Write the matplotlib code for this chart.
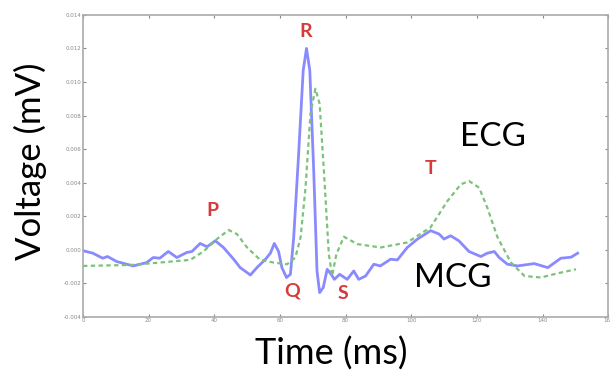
import matplotlib
matplotlib.use("Agg")
import matplotlib.pyplot as plt

# MCG trace (blue, solid)
mcg_t = [0.1, 3, 6, 7.5, 10.3, 15.3, 19.4, 21.4, 23.4, 26, 28.6, 31.6, 33.2, 35.7, 37.8,
         40.3, 42.8, 45.9, 47.9, 51, 53, 55.6, 57.1, 58.3, 59.6, 60.6, 62, 63.2, 64.2,
         65.7, 67.1, 68.1, 69.1, 70.3, 71.3, 72.1, 73.2, 74.4, 75.6, 76.6, 78.2, 80.5,
         82.5, 84, 86.1, 88.6, 90.6, 93.7, 95.8, 98.8, 101.9, 105.9, 108.5, 110, 112,
         114.5, 117.6, 121.2, 123.2, 125.3, 126.8, 129.3, 132.4, 137.5, 141.6, 145.6,
         148.7, 150.7]
mcg_v = [-0.00006, -0.0002, -0.0005, -0.0004, -0.0007, -0.00096, -0.00076, -0.00046,
         -0.0005, -0.0001, -0.00046, -0.00016, -0.0001, 0.00038, 0.00018, 0.00054,
         0.00014, -0.00056, -0.00106, -0.0015, -0.00106, -0.00056, -0.0002, 0.00038,
         -0.0001, -0.00106, -0.00165, -0.00146, 0.00074, 0.0057, 0.0107, 0.0120, 0.0107,
         0.0047, -0.00126, -0.00255, -0.00225, -0.00116, -0.00146, -0.00176, -0.00146,
         -0.00176, -0.00126, -0.00176, -0.00156, -0.00086, -0.00096, -0.00056, -0.0006,
         0.00014, 0.00064, 0.00114, 0.00094, 0.00064, 0.00084, 0.00054, -0.0001, -0.0004,
         -0.0002, -0.0001, -0.00046, -0.00086, -0.00096, -0.00082, -0.00106, -0.0005,
         -0.00044, -0.0002]

# ECG trace (green, dotted)
ecg_t = [0, 15, 32.7, 36.7, 40.8, 44.4, 46.9, 50, 54, 58.1, 62.2, 64.7, 66.3, 67.8, 69.3,
         70.8, 72.1, 73.4, 74.9, 75.9, 77.2, 79.5, 83.6, 90.7, 98.8, 105.9, 111, 115.1,
         117.6, 120.7, 123.2, 126.3, 130.4, 134.5, 139.5, 144.6, 150.2]
ecg_v = [-0.00096, -0.0009, -0.0006, -0.0001, 0.00064, 0.00118, 0.00094, 0.00014, -0.0006,
         -0.00076, -0.00086, -0.00046, 0.00074, 0.0037, 0.0081, 0.0096, 0.0087, 0.0047,
         -0.00026, -0.00156, -0.00026, 0.00078, 0.00034, 0.00014, 0.00044, 0.00134,
         0.0029, 0.0039, 0.0041, 0.0037, 0.0025, 0.00074, -0.00076, -0.00156, -0.00165,
         -0.0014, -0.00116]

# wave labels
wave_names = ["P", "R", "Q", "S", "T"]
wave_t = [39.4, 67.8, 63.8, 79.1, 105.9]
wave_v = [0.00233, 0.0130, -0.00245, -0.00263, 0.00484]

fig = plt.figure(figsize=(6.1, 3.72), dpi=100)
ax = fig.add_axes([0.136, 0.148, 0.861, 0.812])

ax.plot(mcg_t, mcg_v, color="#8a8aff", lw=2)
ax.plot(ecg_t, ecg_v, color="#7cc27c", lw=1.6, ls=(0, (2, 1.5)))

for name, t, v in zip(wave_names, wave_t, wave_v):
    ax.text(t, v, name, color="#d63a3a", fontsize=14, fontweight="bold",
            ha="center", va="center", family="Lato")

ax.text(124.9, 0.0067, "ECG", fontsize=24, ha="center", va="center", family="Lato")
ax.text(112.7, -0.00167, "MCG", fontsize=24, ha="center", va="center", family="Lato")

ax.set_xlim(0, 160)
ax.set_ylim(-0.004, 0.014)
ax.set_xticks(range(0, 161, 20))
ax.set_yticks([-0.004 + 0.002 * i for i in range(10)])
ax.set_yticklabels(["%.3f" % (-0.004 + 0.002 * i) for i in range(10)])
ax.tick_params(labelsize=4, colors="#888888", length=2, top=True, right=True,
               direction="in", pad=1)
for s in ax.spines.values():
    s.set_color("#aaaaaa")
    s.set_linewidth(1.2)

fig.text(0.05, 0.566, "Voltage (mV)", rotation=90, fontsize=25, ha="center",
         va="center", family="Lato")
fig.text(0.543, 0.05, "Time (ms)", fontsize=26, ha="center", va="center", family="Lato")

fig.savefig("out.png", dpi=100)
